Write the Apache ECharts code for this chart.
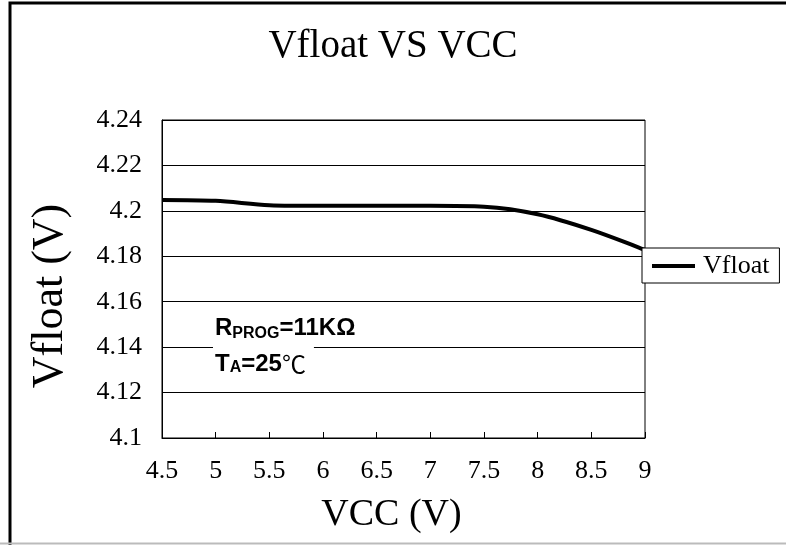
<!DOCTYPE HTML>
<html>
    <head>
        <meta charset="UTF-8">
        <title>Vfloat VS VCC</title>
        <style>
            html,body{margin:0;padding:0;width:100%;height:100%;background:#fff;}
            #wrap{width:786px;height:545px;}
        </style>
    </head>
    <body>
        <div id="wrap"></div>

        <script src="https://cdn.jsdelivr.net/npm/echarts@6/dist/echarts.min.js"></script>
        <script>
            // data
            let vcc = [4.5, 5, 5.5, 6, 6.5, 7, 7.5, 8, 8.5, 9];
            let vfloat = [4.2048, 4.2044, 4.2025, 4.2022, 4.2022, 4.2022, 4.2018, 4.1985, 4.1916, 4.1828];
            let seriesName = 'Vfloat';

            let serif = '"Liberation Serif", "DejaVu Serif", serif';
            let sans = '"Liberation Sans", Arial, sans-serif';

            let wrap = document.getElementById('wrap');
            let mycharts = echarts.init(wrap);

            let points = vcc.map((x, i) => [x, vfloat[i]]);

            let options = {
                backgroundColor: '#fff',
                animation: false,
                title: {
                    text: 'Vfloat VS VCC',
                    left: 'center',
                    top: 22,
                    textStyle: {
                        fontFamily: serif,
                        fontWeight: 'normal',
                        fontSize: 39,
                        color: '#000'
                    }
                },
                grid: {
                    left: 162,
                    right: 141,
                    top: 120,
                    bottom: 107,
                    show: true,
                    borderColor: '#000',
                    borderWidth: 1,
                    backgroundColor: 'transparent'
                },
                xAxis: {
                    type: 'value',
                    min: 4.5,
                    max: 9,
                    interval: 0.5,
                    name: 'VCC (V)',
                    nameLocation: 'middle',
                    nameGap: 58,
                    nameTextStyle: {
                        fontFamily: serif,
                        fontSize: 38,
                        color: '#000',
                        padding: [0, 24, 0, 0]
                    },
                    axisLine: {show: true, lineStyle: {color: '#000', width: 1}},
                    axisTick: {show: true, inside: true, length: 6, lineStyle: {color: '#000'}},
                    axisLabel: {
                        margin: 20,
                        fontFamily: serif,
                        fontSize: 26,
                        color: '#000'
                    },
                    splitLine: {show: false}
                },
                yAxis: {
                    type: 'value',
                    min: 4.1,
                    max: 4.24,
                    interval: 0.02,
                    name: 'Vfloat (V)',
                    nameLocation: 'middle',
                    nameGap: 90,
                    nameTextStyle: {
                        fontFamily: serif,
                        fontSize: 44,
                        color: '#000',
                        padding: [0, 34, 0, 0]
                    },
                    axisLine: {show: true, lineStyle: {color: '#000', width: 1}},
                    axisTick: {show: false},
                    axisLabel: {
                        margin: 20,
                        fontFamily: serif,
                        fontSize: 26,
                        color: '#000'
                    },
                    splitLine: {show: true, lineStyle: {color: '#000', width: 1}}
                },
                legend: {
                    left: 642,
                    top: 248,
                    orient: 'vertical',
                    data: [seriesName],
                    icon: 'rect',
                    itemWidth: 43,
                    itemHeight: 4,
                    padding: [5, 10, 4, 10],
                    backgroundColor: '#fff',
                    borderColor: '#000',
                    borderWidth: 1,
                    borderRadius: 0,
                    textStyle: {
                        fontFamily: serif,
                        fontSize: 26,
                        color: '#000',
                        padding: [0, 0, 0, 3]
                    }
                },
                graphic: [
                    {
                        type: 'polyline',
                        silent: true,
                        shape: {points: [[10, 545], [10, 3], [790, 3]]},
                        style: {stroke: '#000', lineWidth: 3, fill: null}
                    },
                    {
                        type: 'line',
                        silent: true,
                        shape: {x1: 0, y1: 543.5, x2: 786, y2: 543.5},
                        style: {stroke: '#bbb', lineWidth: 2}
                    },
                    {
                        type: 'text',
                        silent: true,
                        x: 215,
                        y: 314,
                        style: {
                            text: '{b|R}{s|PROG}{b|=11KΩ}',
                            fill: '#000',
                            rich: {
                                b: {fontFamily: sans, fontWeight: 'bold', fontSize: 24, lineHeight: 26, verticalAlign: 'bottom'},
                                s: {fontFamily: sans, fontWeight: 'bold', fontSize: 16, lineHeight: 26, verticalAlign: 'bottom', padding: [0, 0, -2, 0]}
                            }
                        }
                    },
                    {
                        type: 'text',
                        silent: true,
                        x: 213,
                        y: 342,
                        z: 10,
                        style: {
                            text: '{b|T}{s|A}{b|=25}{c|℃}',
                            fill: '#000',
                            backgroundColor: '#fff',
                            padding: [8, 8, 10, 2],
                            rich: {
                                b: {fontFamily: sans, fontWeight: 'bold', fontSize: 24, lineHeight: 26, verticalAlign: 'bottom'},
                                s: {fontFamily: sans, fontWeight: 'bold', fontSize: 16, lineHeight: 26, verticalAlign: 'bottom'},
                                c: {fontFamily: '"Noto Sans CJK SC", sans-serif', fontSize: 24, lineHeight: 26, verticalAlign: 'bottom'}
                            }
                        }
                    }
                ],
                series: [
                    {
                        name: seriesName,
                        type: 'line',
                        data: points,
                        smooth: 0.3,
                        showSymbol: false,
                        symbol: 'none',
                        lineStyle: {color: '#000', width: 4},
                        itemStyle: {color: '#000'},
                        z: 3
                    }
                ]
            };

            mycharts.setOption(options);
        </script>
    </body>
</html>
